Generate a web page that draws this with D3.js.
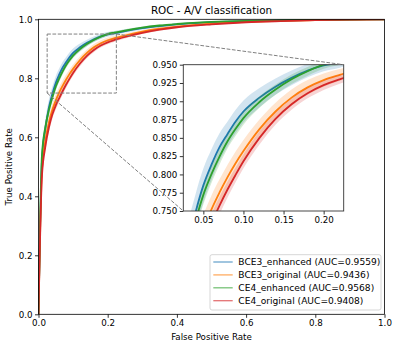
<!DOCTYPE html>
<html>
<head>
<meta charset="utf-8">
<script src="https://cdn.jsdelivr.net/npm/d3@7"></script>
<style>
  html, body { margin: 0; padding: 0; background: #fff; }
  svg { display: block; }
  text { font-family: "DejaVu Sans", sans-serif; }
</style>
</head>
<body>
<svg id="chart" width="398" height="348"></svg>
<script>
// ---------------- data ----------------
const fprGrid = [0, 0.01, 0.02, 0.03, 0.04, 0.05, 0.06, 0.07, 0.08, 0.09, 0.10, 0.12, 0.14, 0.16, 0.18, 0.20, 0.22, 0.25, 0.30, 0.35, 0.40, 0.50, 0.60, 0.70, 0.80, 0.90, 1.00];

const bce3EnhancedTpr = [0, 0.52, 0.63, 0.70, 0.747, 0.785, 0.813, 0.837, 0.855, 0.872, 0.886, 0.905, 0.920, 0.932, 0.942, 0.949, 0.953, 0.960, 0.970, 0.977, 0.983, 0.990, 0.994, 0.996, 0.998, 0.999, 1.0];
const bce3EnhancedStd = [0, 0.030, 0.030, 0.028, 0.025, 0.023, 0.021, 0.019, 0.017, 0.016, 0.015, 0.013, 0.011, 0.010, 0.009, 0.008, 0.007, 0.006, 0.005, 0.004, 0.003, 0.002, 0.0015, 0.001, 0.001, 0.0005, 0];

const bce3OriginalTpr = [0, 0.49, 0.59, 0.65, 0.693, 0.725, 0.752, 0.775, 0.796, 0.815, 0.832, 0.862, 0.886, 0.905, 0.919, 0.929, 0.936, 0.945, 0.958, 0.968, 0.975, 0.985, 0.991, 0.995, 0.997, 0.999, 1.0];
const bce3OriginalStd = [0, 0.028, 0.026, 0.024, 0.022, 0.020, 0.019, 0.018, 0.017, 0.016, 0.015, 0.013, 0.012, 0.011, 0.010, 0.009, 0.008, 0.007, 0.006, 0.005, 0.004, 0.003, 0.002, 0.0015, 0.001, 0.0005, 0];

const ce4EnhancedTpr = [0, 0.54, 0.635, 0.692, 0.735, 0.772, 0.800, 0.824, 0.845, 0.862, 0.877, 0.899, 0.916, 0.930, 0.941, 0.950, 0.955, 0.962, 0.972, 0.979, 0.984, 0.991, 0.995, 0.997, 0.998, 0.999, 1.0];
const ce4EnhancedStd = [0, 0.020, 0.018, 0.016, 0.014, 0.013, 0.012, 0.011, 0.010, 0.0095, 0.009, 0.008, 0.007, 0.0065, 0.006, 0.0055, 0.005, 0.0045, 0.004, 0.003, 0.0025, 0.002, 0.0015, 0.001, 0.001, 0.0005, 0];

const ce4OriginalTpr = [0, 0.47, 0.57, 0.633, 0.677, 0.708, 0.733, 0.757, 0.779, 0.799, 0.818, 0.850, 0.876, 0.896, 0.911, 0.922, 0.930, 0.940, 0.954, 0.965, 0.973, 0.983, 0.990, 0.994, 0.997, 0.999, 1.0];
const ce4OriginalStd = [0, 0.020, 0.018, 0.016, 0.015, 0.014, 0.013, 0.012, 0.011, 0.010, 0.0095, 0.009, 0.008, 0.0075, 0.007, 0.0065, 0.006, 0.005, 0.004, 0.0035, 0.003, 0.002, 0.0015, 0.001, 0.001, 0.0005, 0];

const seriesNames = ["BCE3_enhanced", "BCE3_original", "CE4_enhanced", "CE4_original"];
const aucValues = [0.9559, 0.9436, 0.9568, 0.9408];
const seriesColors = ["#1f77b4", "#ff7f0e", "#2ca02c", "#d62728"];
const seriesTpr = [bce3EnhancedTpr, bce3OriginalTpr, ce4EnhancedTpr, ce4OriginalTpr];
const seriesStd = [bce3EnhancedStd, bce3OriginalStd, ce4EnhancedStd, ce4OriginalStd];

const xTicks = [0, 0.2, 0.4, 0.6, 0.8, 1.0];
const yTicks = [0, 0.2, 0.4, 0.6, 0.8, 1.0];
const insetXTicks = [0.05, 0.10, 0.15, 0.20];
const insetYTicks = [0.750, 0.775, 0.800, 0.825, 0.850, 0.875, 0.900, 0.925, 0.950];
const insetXDomain = [0.025, 0.225];
const insetYDomain = [0.75, 0.95];
const titleText = "ROC - A/V classification";
const xLabelText = "False Positive Rate";
const yLabelText = "True Positive Rate";

// ---------------- layout ----------------
const FS = 8.7;
const LFS = 9.1;
const svg = d3.select("#chart");
const M = { left: 38.5, right: 384.5, top: 19.3, bottom: 314.3 };
const IN = { left: 183.3, right: 343.7, top: 64.7, bottom: 211 };

const x = d3.scaleLinear().domain([0, 1]).range([M.left, M.right]);
const y = d3.scaleLinear().domain([0, 1]).range([M.bottom, M.top]);
const xi = d3.scaleLinear().domain(insetXDomain).range([IN.left, IN.right]);
const yi = d3.scaleLinear().domain(insetYDomain).range([IN.bottom, IN.top]);

const defs = svg.append("defs");
defs.append("clipPath").attr("id", "clipMain").append("rect")
  .attr("x", M.left).attr("y", M.top).attr("width", M.right - M.left).attr("height", M.bottom - M.top);
defs.append("clipPath").attr("id", "clipInset").append("rect")
  .attr("x", IN.left).attr("y", IN.top).attr("width", IN.right - IN.left).attr("height", IN.bottom - IN.top);

const rows = seriesTpr.map((tpr, s) => fprGrid.map((f, i) => ({
  f, t: tpr[i],
  lo: Math.max(tpr[i] - seriesStd[s][i], 0),
  hi: Math.min(tpr[i] + seriesStd[s][i], 1)
})));

function drawCurves(g, xs, ys, lw) {
  const area = d3.area().x(d => xs(d.f)).y0(d => ys(d.lo)).y1(d => ys(d.hi)).curve(d3.curveMonotoneX);
  const line = d3.line().x(d => xs(d.f)).y(d => ys(d.t)).curve(d3.curveMonotoneX);
  rows.forEach((r, s) => {
    g.append("path").attr("d", area(r)).attr("fill", seriesColors[s]).attr("fill-opacity", 0.2).attr("stroke", "none");
    g.append("path").attr("d", line(r)).attr("fill", "none").attr("stroke", seriesColors[s]).attr("stroke-width", lw);
  });
}

function styleAxis(g) {
  g.select(".domain").remove();
  g.selectAll(".tick line").attr("stroke", "#000").attr("stroke-width", 0.8);
  g.selectAll(".tick text").attr("fill", "#000").style("font-size", FS + "px").style("font-family", "DejaVu Sans");
}

// main axes background
svg.append("rect").attr("x", M.left).attr("y", M.top).attr("width", M.right - M.left).attr("height", M.bottom - M.top).attr("fill", "#fff");

const mainG = svg.append("g").attr("clip-path", "url(#clipMain)");
drawCurves(mainG, x, y, 1.8);

// main axes ticks
const gx = svg.append("g").attr("transform", `translate(0,${M.bottom})`)
  .call(d3.axisBottom(x).tickValues(xTicks).tickFormat(d3.format(".1f")).tickSize(3.5).tickPadding(2.5));
styleAxis(gx);
const gy = svg.append("g").attr("transform", `translate(${M.left},0)`)
  .call(d3.axisLeft(y).tickValues(yTicks).tickFormat(d3.format(".1f")).tickSize(3.5).tickPadding(2.5));
styleAxis(gy);
gy.selectAll(".tick text").attr("dy", "0.34em");

// main spines
svg.append("rect").attr("x", M.left).attr("y", M.top).attr("width", M.right - M.left).attr("height", M.bottom - M.top)
  .attr("fill", "none").attr("stroke", "#000").attr("stroke-width", 0.8);

// labels and title
svg.append("text").attr("x", (M.left + M.right) / 2).attr("y", 14).attr("text-anchor", "middle")
  .style("font-size", "10.4px").text(titleText);
svg.append("text").attr("x", (M.left + M.right) / 2).attr("y", 340).attr("text-anchor", "middle")
  .style("font-size", FS + "px").text(xLabelText);
svg.append("text").attr("transform", `translate(12,${(M.top + M.bottom) / 2}) rotate(-90)`).attr("text-anchor", "middle")
  .style("font-size", FS + "px").text(yLabelText);

// zoom rectangle on main
const dashColor = "#808080";
svg.append("rect")
  .attr("x", x(insetXDomain[0])).attr("y", y(insetYDomain[1]))
  .attr("width", x(insetXDomain[1]) - x(insetXDomain[0])).attr("height", y(insetYDomain[0]) - y(insetYDomain[1]))
  .attr("fill", "none").attr("stroke", dashColor).attr("stroke-width", 1).attr("stroke-dasharray", "3.7,1.6");

// inset
svg.append("rect").attr("x", IN.left).attr("y", IN.top).attr("width", IN.right - IN.left).attr("height", IN.bottom - IN.top).attr("fill", "#fff");
const insetG = svg.append("g").attr("clip-path", "url(#clipInset)");
drawCurves(insetG, xi, yi, 1.8);

const gxi = svg.append("g").attr("transform", `translate(0,${IN.bottom})`)
  .call(d3.axisBottom(xi).tickValues(insetXTicks).tickFormat(d3.format(".2f")).tickSize(3.5).tickPadding(2.5));
styleAxis(gxi);
const gyi = svg.append("g").attr("transform", `translate(${IN.left},0)`)
  .call(d3.axisLeft(yi).tickValues(insetYTicks).tickFormat(d3.format(".3f")).tickSize(3.5).tickPadding(2.5));
styleAxis(gyi);

svg.append("rect").attr("x", IN.left).attr("y", IN.top).attr("width", IN.right - IN.left).attr("height", IN.bottom - IN.top)
  .attr("fill", "none").attr("stroke", "#333").attr("stroke-width", 0.9);

// connector lines
svg.append("line")
  .attr("x1", x(insetXDomain[1])).attr("y1", y(insetYDomain[1])).attr("x2", IN.right).attr("y2", IN.top)
  .attr("stroke", dashColor).attr("stroke-width", 1).attr("stroke-dasharray", "3.7,1.6");
svg.append("line")
  .attr("x1", x(insetXDomain[0])).attr("y1", y(insetYDomain[0])).attr("x2", IN.left).attr("y2", IN.bottom)
  .attr("stroke", dashColor).attr("stroke-width", 1).attr("stroke-dasharray", "3.7,1.6");

// legend
const L = { x: 210, y: 254.7, w: 171, h: 55.3 };
svg.append("rect").attr("x", L.x).attr("y", L.y).attr("width", L.w).attr("height", L.h).attr("rx", 2)
  .attr("fill", "#fff").attr("fill-opacity", 0.8).attr("stroke", "#cccccc").attr("stroke-width", 0.8);
seriesNames.forEach((name, s) => {
  const cy = 262 + s * 12.9;
  svg.append("line").attr("x1", 213.3).attr("x2", 232.7).attr("y1", cy).attr("y2", cy)
    .attr("stroke", seriesColors[s]).attr("stroke-width", 1.3).attr("stroke-opacity", 0.65);
  svg.append("text").attr("x", 238.3).attr("y", cy + 3.2).style("font-size", LFS + "px")
    .text(`${name} (AUC=${aucValues[s].toFixed(4)})`);
});
</script>
</body>
</html>
